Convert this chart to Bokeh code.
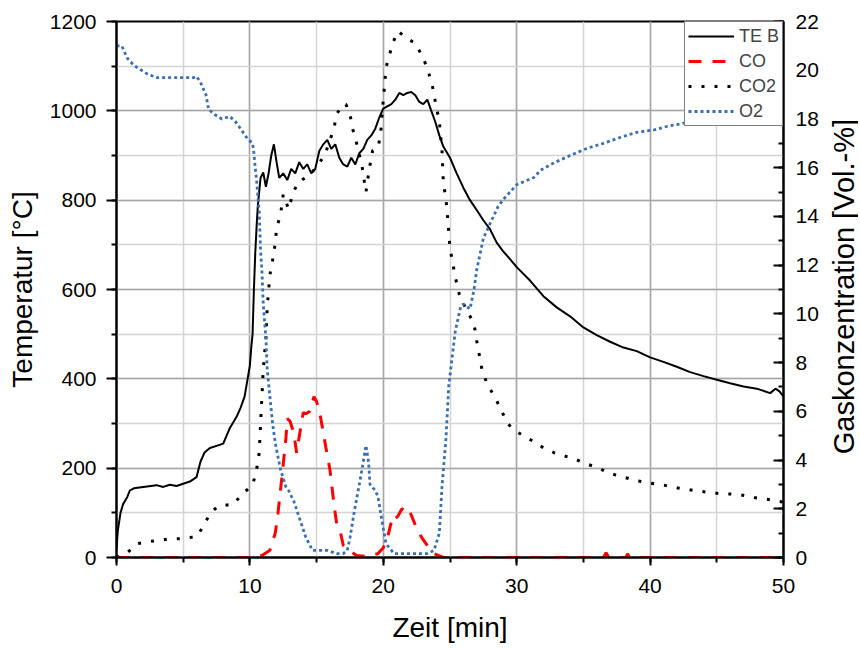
import math
from bokeh.plotting import figure
from bokeh.layouts import row
from bokeh.models import (Range1d, LinearAxis, SingleIntervalTicker, Legend, LegendItem)
from bokeh.embed import file_html
from bokeh.resources import INLINE

# ---- data ----
te_t = [0, 0.1, 0.3, 0.5, 0.8, 1.0, 1.3, 2, 3, 3.5, 4, 4.5, 5, 5.5, 6, 6.3, 6.6, 7, 7.5, 8, 8.5, 9, 9.3, 9.6,
        9.8, 10, 10.1, 10.2, 10.3, 10.4, 10.5, 10.6, 10.8, 11.0, 11.2, 11.4, 11.6, 11.8, 12.0, 12.2, 12.5,
        12.8, 13.1, 13.4, 13.7, 14.0, 14.3, 14.6, 14.9, 15.2, 15.5, 15.8, 16.1, 16.4, 16.7, 17.0, 17.3,
        17.6, 17.9, 18.2, 18.5, 18.8, 19.1, 19.4, 19.7, 20.0, 20.3, 20.6, 20.9, 21.2, 21.5, 21.8, 22.1,
        22.4, 22.7, 23.0, 23.3, 23.6, 23.9, 24.2, 24.5, 25.0, 25.5, 26, 26.5, 27, 27.5, 28, 28.5, 29,
        29.5, 30, 31, 32, 33, 34, 35, 36, 37, 38, 39, 40, 41, 42, 43, 44, 45, 46, 47, 48, 49, 49.4,
        49.7, 50]
te_b = [20, 60, 100, 120, 135, 150, 155, 158, 162, 158, 163, 160, 165, 170, 180, 215, 235, 245, 250, 255,
        290, 315, 335, 360, 395, 430, 470, 500, 600, 680, 740, 790, 850, 862, 830, 860, 900, 925, 885, 850,
        860, 845, 870, 860, 885, 870, 880, 860, 870, 910, 925, 935, 915, 925, 895, 880, 875, 895, 880, 905,
        915, 935, 945, 960, 985, 1005, 1010, 1015, 1025, 1040, 1035, 1040, 1042, 1035, 1020, 1015, 1025,
        1000, 975, 945, 920, 895, 860, 828, 800, 778, 755, 735, 705, 685, 668, 650, 620, 585, 560, 540,
        515, 498, 483, 470, 462, 448, 438, 427, 415, 406, 398, 390, 383, 378, 368, 378, 372, 360]

co_t = [0, 10.3, 10.9, 11.5, 11.9, 12.1, 12.4, 12.7, 12.8, 13.0, 13.3, 13.5, 13.8, 14.0, 14.2, 14.5, 14.8,
        15.0, 15.3, 15.7, 16.0, 16.3, 16.5, 16.8, 17.0, 17.2, 17.4, 18.0, 18.8, 19.6, 20.0, 20.4, 20.7,
        20.9, 21.1, 21.4, 21.7, 21.9, 22.2, 22.5, 22.9, 23.3, 23.8, 24.5, 36.5, 36.7, 36.9, 38.2, 38.3,
        38.5, 50]
co = [0, 0, 0.08, 0.3, 1.0, 1.8, 3.3, 4.9, 5.7, 5.6, 5.1, 4.3, 5.3, 5.95, 5.9, 6.0, 6.6, 6.4, 5.75, 4.5,
      3.6, 2.2, 1.4, 1.0, 0.5, 0.4, 0.3, 0.08, 0.04, 0.16, 0.4, 1.0, 1.7, 1.6, 1.7, 2.0, 1.9, 2.0, 1.6, 1.2,
      0.8, 0.5, 0.16, 0, 0, 0.2, 0, 0, 0.15, 0, 0]

co2_t = [0, 0.8, 1.6, 2.5, 3.8, 5.0, 6.0, 6.5, 7.0, 7.6, 8.8, 9.4, 10.2, 10.5, 10.7, 10.8, 10.9, 11.0, 11.2,
         11.3, 11.5, 11.7, 11.9, 12.0, 12.3, 12.5, 12.9, 13.2, 13.6, 14.2, 14.8, 15.6, 16.3, 16.5, 17.0,
         17.2, 17.5, 17.7, 18.0, 18.4, 18.5, 18.7, 18.8, 19.0, 19.2, 19.6, 19.8, 20.0, 20.1, 20.2, 20.4,
         20.7, 21.1, 21.8, 22.4, 22.8, 23.0, 23.4, 23.7, 23.9, 24.2, 24.4, 24.5, 24.7, 24.8, 24.9, 25.0,
         25.2, 25.4, 25.7, 26.2, 26.8, 27.0, 27.2, 27.4, 27.8, 28.3, 28.8, 29.3, 29.9, 30.5, 31.3, 32.0,
         32.8, 34.3, 35.2, 36.0, 37.0, 38.0, 39.0, 40.0, 41.2, 42.1, 43.3, 44.4, 45.3, 46.3, 46.8, 47.8,
         49.0, 50.0]
co2 = [0, 0.2, 0.57, 0.66, 0.75, 0.78, 0.86, 1.27, 1.8, 2.1, 2.2, 2.6, 2.96, 3.6, 4.3, 5.5, 6.6, 7.7, 9.0,
       10.3, 11.6, 12.2, 12.9, 13.5, 14.1, 14.9, 14.3, 14.9, 15.4, 15.6, 15.9, 16.5, 17.6, 18.2, 18.6,
       18.6, 18.2, 17.6, 17.0, 16.1, 15.7, 15.0, 15.4, 16.1, 16.7, 16.8, 17.4, 18.8, 19.4, 20.1, 20.5,
       21.1, 21.6, 21.3, 21.1, 20.7, 20.5, 19.9, 19.3, 18.7, 17.9, 16.7, 15.4, 14.7, 14.1, 13.4, 12.7,
       12.1, 11.5, 10.8, 10.2, 9.6, 8.9, 8.3, 7.7, 7.1, 6.65, 6.1, 5.5, 5.2, 5.0, 4.75, 4.5, 4.3, 4.05,
       3.85, 3.7, 3.45, 3.3, 3.15, 3.05, 2.95, 2.85, 2.75, 2.67, 2.62, 2.6, 2.57, 2.46, 2.37, 2.27]

o2_t = [0, 0.4, 0.8, 1.3, 2.3, 3.0, 4.5, 5.8, 6.0, 6.3, 6.7, 6.9, 7.3, 7.9, 8.5, 8.9, 9.3, 9.8, 10.2, 10.3,
        10.4, 10.5, 10.6, 10.7, 10.75, 10.8, 10.9, 11.0, 11.2, 11.3, 11.5, 11.7, 11.9, 12.3, 12.7, 12.9,
        13.3, 13.7, 14.2, 14.7, 15.8, 16.5, 17.0, 17.3, 17.5, 17.8, 18.2, 18.4, 18.7, 18.9, 19.0, 19.4,
        19.6, 19.9, 20.2, 20.8, 23.3, 23.8, 24.2, 24.4, 24.7, 24.9, 25.2, 25.4, 25.8, 26.0, 26.5, 26.8,
        27.0, 27.5, 28.0, 28.6, 29.0, 30.0, 31.3, 31.8, 32.8, 34.0, 35.3, 36.5, 37.8, 39.0, 40.3, 41.3,
        42.3, 44, 46, 48, 50]
o2 = [21.0, 21.0, 20.5, 20.2, 19.85, 19.7, 19.7, 19.7, 19.75, 19.5, 19.0, 18.4, 18.2, 18.0, 18.1, 17.9,
      17.6, 17.2, 17.0, 16.6, 16.0, 15.5, 14.8, 14.2, 13.4, 12.6, 11.8, 10.4, 9.0, 7.7, 6.6, 5.5, 4.7,
      3.6, 2.9, 2.75, 2.3, 1.64, 0.82, 0.29, 0.29, 0.16, 0.16, 0.29, 0.8, 1.8, 3.0, 3.6, 4.6, 3.9, 3.0,
      2.75, 2.5, 1.5, 0.57, 0.16, 0.16, 0.29, 1.0, 2.9, 4.9, 7.0, 8.4, 9.3, 10.3, 10.4, 10.2, 11.0, 11.8,
      13.1, 13.7, 14.4, 14.7, 15.3, 15.6, 15.9, 16.2, 16.5, 16.8, 17.0, 17.25, 17.45, 17.55, 17.7, 17.8,
      18.0, 18.2, 18.3, 18.4]

x_title = "Zeit [min]"
y_title = "Temperatur [°C]"
y2_title = "Gaskonzentration [Vol.-%]"

FONT = "Liberation Sans"

p = figure(frame_width=667, frame_height=536, output_backend="svg", toolbar_location=None,
           x_range=Range1d(0, 50), y_range=Range1d(0, 1200),
           min_border_left=116, min_border_right=40, min_border_top=21, min_border_bottom=88)
p.extra_y_ranges = {"gas": Range1d(0, 22)}

p.outline_line_color = "black"
p.outline_line_width = 2
p.background_fill_color = "white"
p.border_fill_color = "white"

# axes
xa = p.xaxis[0]
xa.ticker = SingleIntervalTicker(interval=10, num_minor_ticks=2)
ya = p.yaxis[0]
ya.ticker = SingleIntervalTicker(interval=200, num_minor_ticks=2)
ra = LinearAxis(y_range_name="gas", ticker=SingleIntervalTicker(interval=2, num_minor_ticks=2))
p.add_layout(ra, "right")

xa.axis_label = x_title
ya.axis_label = y_title

for ax in (xa, ya, ra):
    ax.axis_line_color = "black"
    ax.axis_line_width = 2
    ax.major_tick_line_color = "black"
    ax.minor_tick_line_color = "black"
    ax.major_tick_line_width = 2
    ax.minor_tick_line_width = 2
    ax.major_label_text_font = FONT
    ax.major_label_text_font_size = "21px"
    ax.major_label_text_color = "black"
    ax.axis_label_text_font = FONT
    ax.axis_label_text_font_size = "28px"
    ax.axis_label_text_font_style = "normal"
    ax.axis_label_text_color = "black"

ya.major_tick_out = 10
ya.major_tick_in = 0
ya.minor_tick_out = 5
ya.minor_tick_in = 0
ya.major_label_standoff = 10
ya.axis_label_standoff = 9

xa.major_tick_out = 8
xa.major_tick_in = 0
xa.minor_tick_out = 5
xa.minor_tick_in = 0
xa.major_label_standoff = 13
xa.axis_label_standoff = 16

ra.major_tick_in = 10
ra.major_tick_out = 0
ra.minor_tick_in = 5
ra.minor_tick_out = 0
ra.major_label_standoff = 12

# grids
for g in (p.xgrid[0], p.ygrid[0]):
    g.grid_line_color = "#a6a6a6"
    g.grid_line_width = 1.5
    g.minor_grid_line_color = "#d4d4d4"
    g.minor_grid_line_width = 1.5

# lines
r_te = p.line(te_t, te_b, line_color="black", line_width=2)
r_co = p.line(co_t, co, line_color="#ff0000", line_width=3, line_dash="13 11", y_range_name="gas")
r_co2 = p.line(co2_t, co2, line_color="black", line_width=3, line_dash="3 10", y_range_name="gas")
r_o2 = p.line(o2_t, o2, line_color="#3a6fb0", line_width=2.8, line_dash="3 3", y_range_name="gas")

legend = Legend(items=[LegendItem(label="TE B", renderers=[r_te]),
                       LegendItem(label="CO", renderers=[r_co]),
                       LegendItem(label="CO2", renderers=[r_co2]),
                       LegendItem(label="O2", renderers=[r_o2])],
                location="top_right")
legend.margin = 0
legend.padding = 3
legend.spacing = 3
legend.glyph_width = 46
legend.glyph_height = 22
legend.label_height = 22
legend.label_standoff = 5
legend.label_text_font = FONT
legend.label_text_font_size = "18px"
legend.border_line_color = "black"
legend.border_line_width = 1
legend.background_fill_color = "white"
legend.background_fill_alpha = 1
p.add_layout(legend)

# narrow strip on the right carrying the right-axis title, reading bottom-to-top
TW, TH = 35, 645
t = figure(width=TW, height=TH, output_backend="svg", toolbar_location=None,
           x_range=Range1d(0, TW), y_range=Range1d(0, TH), x_axis_type=None, y_axis_type=None,
           min_border=0, outline_line_color=None)
t.grid.visible = False
t.background_fill_color = "white"
t.border_fill_color = "white"
t.text(x=[20], y=[TH - 319], text=[y2_title], angle=math.pi / 2, text_align="center",
       text_baseline="middle", text_font_size="29px", text_color="black",
       text_font={"value": FONT})

layout = row(p, t, spacing=0)
open("out.html", "w").write(file_html(layout, INLINE))
